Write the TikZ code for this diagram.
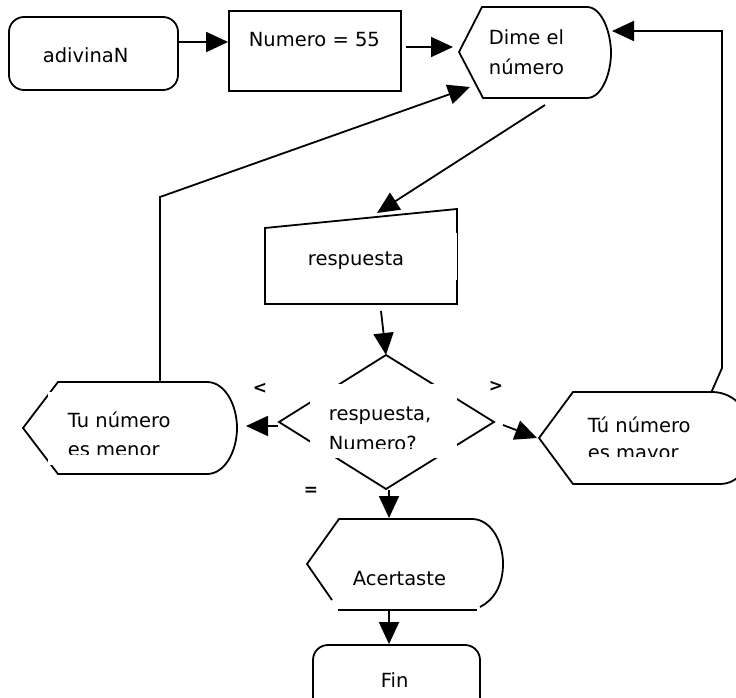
\documentclass[tikz,border=0pt]{standalone}
\usepackage{fontspec}
\setmainfont{DejaVu Sans}
\usetikzlibrary{arrows.meta}
\begin{document}
\begin{tikzpicture}[x=1pt,y=-1pt,line width=1.8pt,
  arr/.style={-{Triangle[length=22pt,width=20pt]}},
  txt/.style={anchor=base west,inner sep=0pt,font=\fontsize{19.5}{21}\selectfont},
  sym/.style={inner sep=0pt,font=\fontsize{17}{18}\selectfont\bfseries},
  box/.style={draw,inner sep=0pt}]
\useasboundingbox (0,0) rectangle (736,698);

% ---------- start / assignment ----------
\node[box,rounded corners=15pt,minimum width=169pt,minimum height=73pt] (adiv) at (93.5,53.5) {};
\node[txt] (adivt) at (42,63) {adivinaN};
\node[box,minimum width=172pt,minimum height=80pt] (num) at (315,51) {};
\node[txt] (numt) at (248,47) {Numero = 55};

% ---------- display: Dime el numero ----------
\draw (482,7) -- (587,7) .. controls (602,7) and (611,33) .. (611,53)
  .. controls (611,73) and (602,98) .. (587,98) -- (483,98) -- (459,52) -- cycle;
\node[txt] (dimet1) at (488,45) {Dime el};
\node[txt] (dimet2) at (488,75) {número};
\coordinate (dimeW) at (453,47);
\coordinate (dimeSW) at (470,87);
\coordinate (dimeE) at (612,31);
\coordinate (dimeS) at (545,105);

% ---------- manual input: respuesta ----------
\draw (265,228) -- (457,209) -- (457,304) -- (265,304) -- cycle;
\fill[white] (455,233) rectangle (457.2,280);
\node[txt] (respt) at (307,265) {respuesta};
\coordinate (respN) at (377,213);
\coordinate (respS) at (381,311);

% ---------- decision ----------
\draw (386,355) -- (494,422) -- (386,489) -- (279,422) -- cycle;
\fill[white] (310,384) rectangle (457,458);
\begin{scope}
  \clip (305,380) rectangle (460,448);
  \node[txt] (dect1) at (328,420) {respuesta,};
  \node[txt] (dect2) at (328,450) {Numero?};
\end{scope}
\coordinate (decN) at (386,355);
\coordinate (decW) at (278,426);
\coordinate (decE) at (503,425);
\coordinate (decS) at (389,490);
\node[sym] (lt) at (260,388) {<};
\node[sym] (gt) at (496,386) {>};
\node[sym] (eq) at (311,491) {=};

% ---------- display: Tu numero es menor ----------
\draw (58,382) -- (207,382) .. controls (225,382) and (237,405) .. (237,428)
  .. controls (237,451) and (225,474) .. (207,474) -- (58,474) -- (23,428) -- cycle;
\fill[white] (48,392) rectangle (200,465);
\begin{scope}
  \clip (45,390) rectangle (205,454);
  \node[txt] (ment1) at (67,427) {Tu número};
  \node[txt] (ment2) at (67,456) {es menor};
\end{scope}
\coordinate (menE) at (246,426);
\coordinate (menN) at (160,382);
\coordinate (leftBend) at (160,197);

% ---------- display: Tu numero es mayor ----------
\draw (573,392) -- (712,392) .. controls (735,392) and (752,412) .. (752,438)
  .. controls (752,464) and (740,484) .. (720,484) -- (573,484) -- (539,438) -- cycle;
\begin{scope}
  \clip (575,395) rectangle (735,456);
  \node[txt] (mayt1) at (587,432) {Tú número};
  \node[txt] (mayt2) at (587,459) {es mayor};
\end{scope}
\coordinate (mayW) at (537,438);
\coordinate (mayN) at (711,393);
\coordinate (rightBend1) at (722,368);
\coordinate (rightBend2) at (722,31);

% ---------- display: Acertaste ----------
\draw (332,600) -- (307,564) -- (339,519) -- (472,519)
  .. controls (490,519) and (503,540) .. (503,564)
  .. controls (503,585) and (494,600) .. (480,607);
\draw (338,610) -- (477,610);
\node[txt] (acet) at (352,585) {Acertaste};
\coordinate (aceN) at (389,518);
\coordinate (aceS) at (389,611);

% ---------- end ----------
\node[box,rounded corners=15pt,minimum width=167pt,minimum height=80pt] (fin) at (396.5,685) {};
\node[txt] (fint) at (380,687) {Fin};

% ---------- connectors ----------
\draw[arr] (adiv.east |- 0,42) -- (num.west |- 0,42);
\draw[arr] (num.east |- 0,47) ++(4,0) -- (dimeW);
\draw[arr] (dimeS) -- (respN);
\draw[arr] (respS) -- (decN);
\draw[arr] (decW) -- (menE);
\draw[arr] (decE) -- (mayW);
\draw[arr] (decS) -- (aceN);
\draw[arr] (aceS) -- (fin.north -| aceS);
\draw[arr] (menN) -- (leftBend) -- (dimeSW);
\draw[arr] (mayN) -- (rightBend1) -- (rightBend2) -- (dimeE);
\end{tikzpicture}
\end{document}
